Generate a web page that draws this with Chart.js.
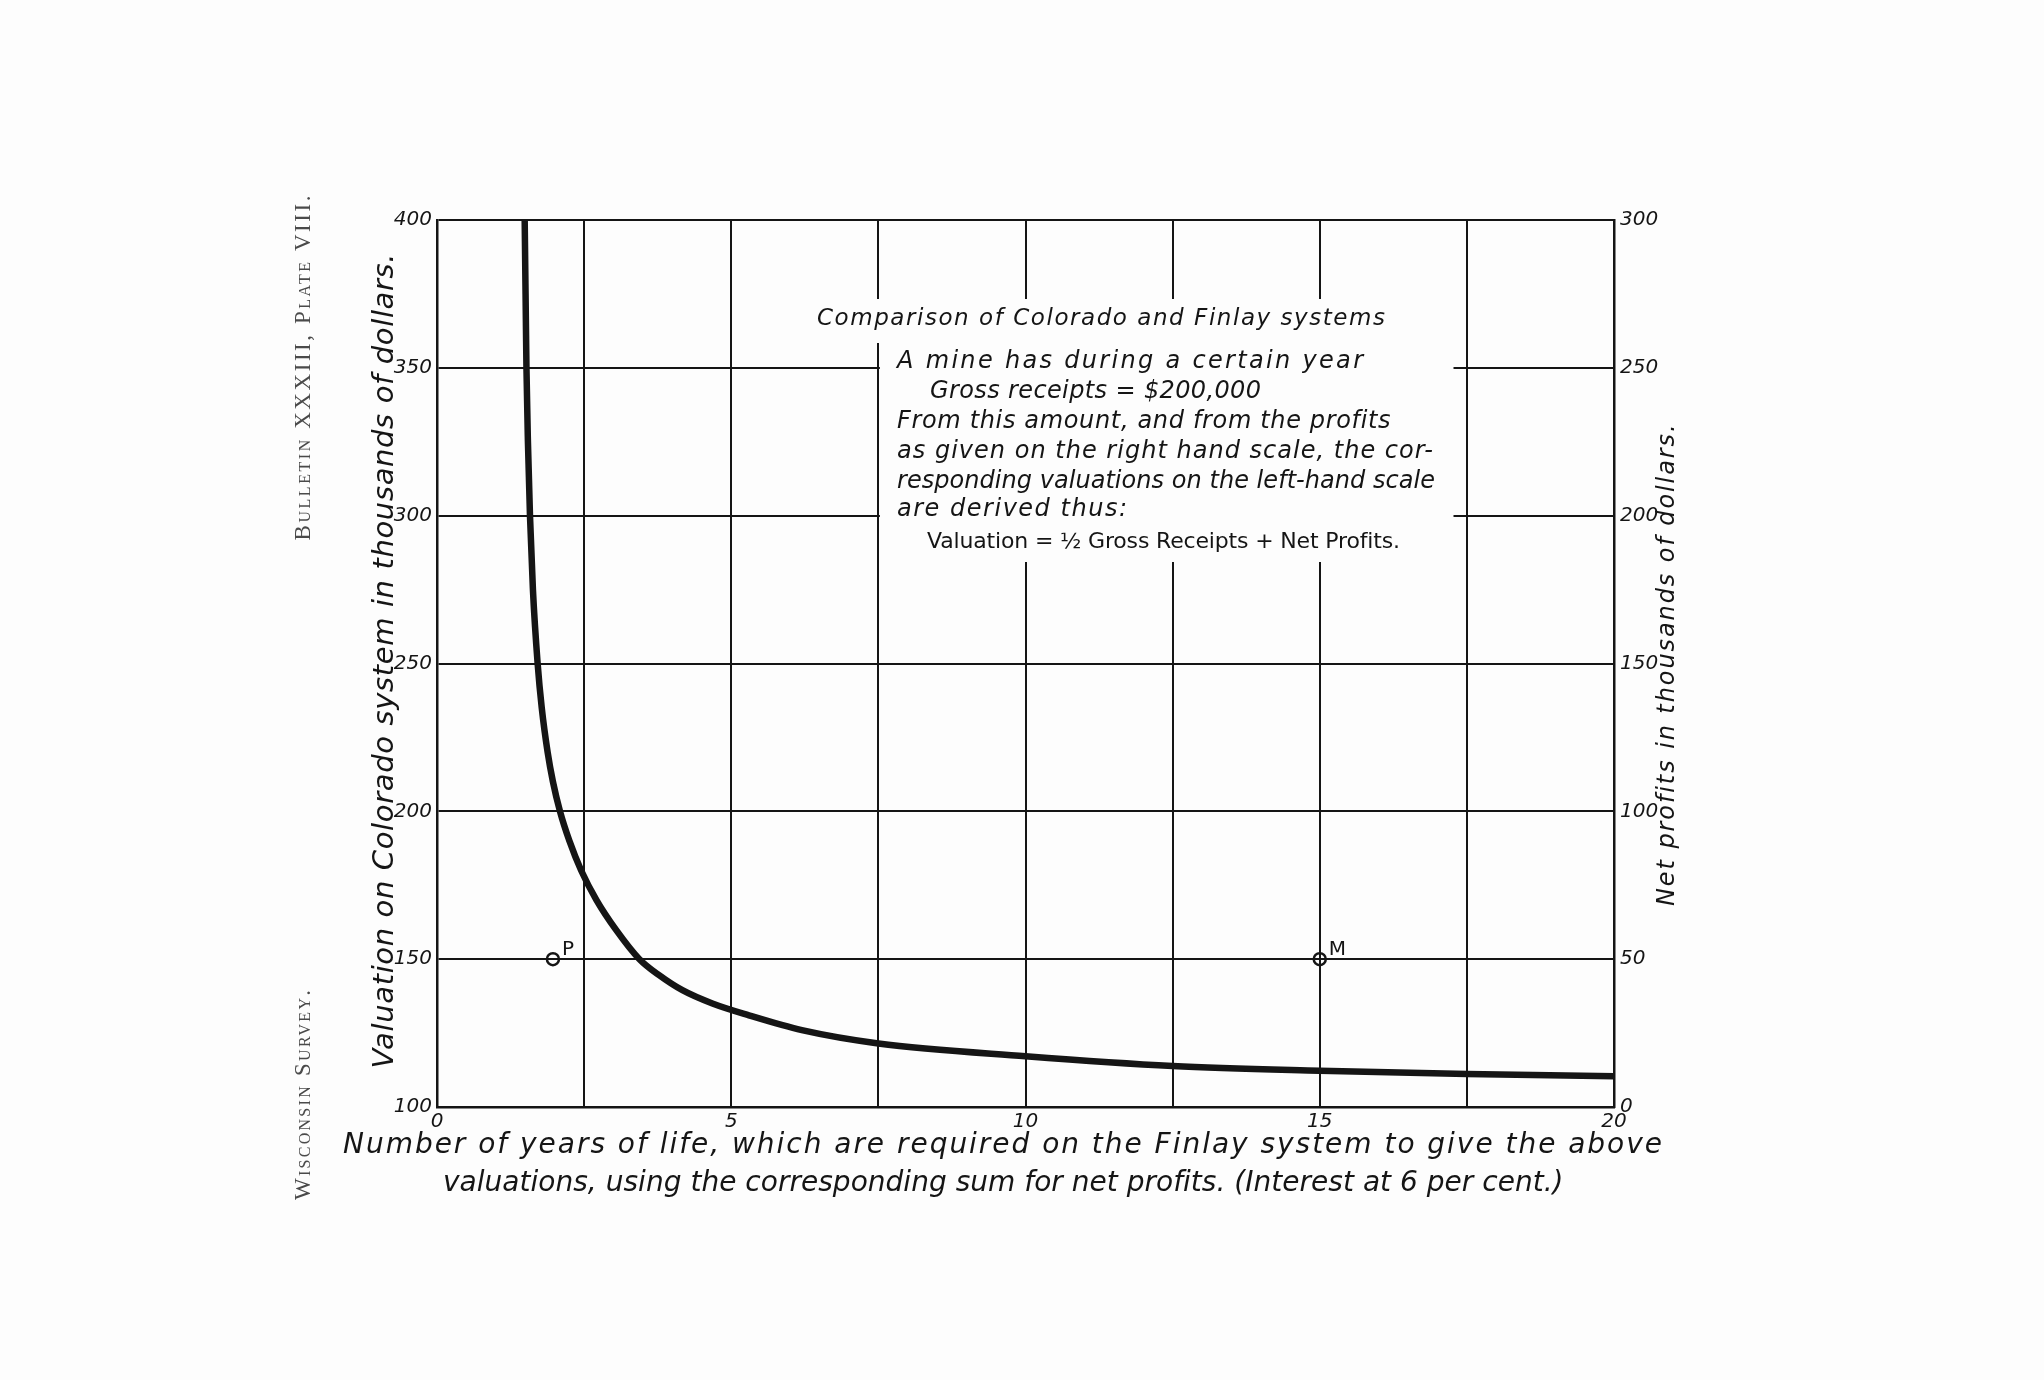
<!DOCTYPE html>
<html>
<head>
<meta charset="utf-8">
<title>Comparison of Colorado and Finlay systems</title>
<script src="https://cdn.jsdelivr.net/npm/chart.js@4.4.1/dist/chart.umd.min.js"></script>
<style>
body{margin:0;background:#fdfdfd;}
#wrap{width:2044px;height:1380px;}
</style>
</head>
<body>
<div id="wrap"><canvas id="plate" width="2044" height="1380"></canvas></div>
<script>
// curve: years of life on the Finlay system vs. Colorado valuation (thousands $)
var years = [1.49, 1.505, 1.52, 1.545, 1.58, 1.63, 1.71, 1.78, 1.88, 1.97, 2.09, 2.25, 2.45, 2.71, 3.04, 3.44, 3.78, 4.17, 4.68, 5.3, 6.2, 7.5, 10, 12.5, 15, 17.5, 20];
var valuation = [400, 375, 350, 325, 300, 275, 250, 235, 220, 210, 200, 190, 180, 170, 160, 150, 144.5, 139.5, 135, 131, 126, 121.5, 117.2, 113.9, 112.3, 111.2, 110.4];

// the two marked points
var pointNames = ["P", "M"];
var pointYears = [1.97, 15];
var pointValues = [150, 150];

// axes
var xLabelled = [0, 5, 10, 15, 20];
var leftMin = 100, leftMax = 400;
var rightMin = 0, rightMax = 300;

var titleText = "Comparison of Colorado and Finlay systems";
var noteLines = [
  "A mine has during a certain year",
  "Gross receipts = $200,000",
  "From this amount, and from the profits",
  "as given on the right hand scale, the cor-",
  "responding valuations on the left-hand scale",
  "are derived thus:",
  "Valuation = \u00bd Gross Receipts + Net Profits."
];
var leftTitle = "Valuation on Colorado system in thousands of dollars.";
var rightTitle = "Net profits in thousands of dollars.";
var bottomTitle1 = "Number of years of life, which are required on the Finlay system to give the above";
var bottomTitle2 = "valuations, using the corresponding sum for net profits. (Interest at 6 per cent.)";
var headTop = "Bulletin XXXIII, Plate VIII.";
var headBottom = "Wisconsin Survey.";

var ink = "#151515";
var hand = '"DejaVu Sans"';

var curve = years.map(function(y, i){ return {x: y, y: valuation[i]}; });
var marks = pointYears.map(function(y, i){ return {x: y, y: pointValues[i]}; });

// draw a string stretched with letter spacing so that it covers width w, starting at left
function spread(ctx, str, left, y, w){
  ctx.letterSpacing = "0px";
  var m = ctx.measureText(str).width;
  var sp = (w - m) / Math.max(str.length - 1, 1);
  ctx.letterSpacing = sp + "px";
  ctx.textAlign = "left";
  ctx.fillText(str, left, y);
  ctx.letterSpacing = "0px";
}
function spreadUp(ctx, str, cx, cy, w){
  ctx.save();
  ctx.translate(cx, cy);
  ctx.rotate(-Math.PI / 2);
  spread(ctx, str, -w / 2, 0, w);
  ctx.restore();
}

var plateText = {
  id: "plateText",
  beforeDatasetsDraw: function(chart){
    var ctx = chart.ctx, x = chart.scales.x;
    ctx.save();
    ctx.fillStyle = "#fdfdfd";
    // the lettering block covers the ruling
    ctx.fillRect(806, 299, 592, 44);
    ctx.fillRect(x.getPixelForValue(7.5) + 1.5, 299, 1452 - x.getPixelForValue(7.5), 263);
    ctx.restore();
  },
  afterDatasetsDraw: function(chart){
    var ctx = chart.ctx;
    ctx.save();
    ctx.fillStyle = ink;
    ctx.textBaseline = "middle";

    ctx.font = "italic 23px " + hand;
    spread(ctx, titleText, 817, 319, 568);

    var lefts = [897, 930, 897, 897, 897, 897, 927];
    var widths = [466, 331, 494, 536, 538, 230, 473];
    var ys = [362, 392, 422, 452, 482, 510, 542];
    noteLines.forEach(function(line, i){
      ctx.font = (i === 6 ? "normal 22px " : "italic 24px ") + hand;
      spread(ctx, line, lefts[i], ys[i], widths[i]);
    });

    // point letters
    ctx.font = "normal 20px " + hand;
    var meta = chart.getDatasetMeta(1);
    meta.data.forEach(function(p, i){
      spread(ctx, pointNames[i], p.x + 9, p.y - 9, 12);
    });

    // axis titles
    ctx.font = "italic 29px " + hand;
    spreadUp(ctx, leftTitle, 385, 661, 815);
    ctx.font = "italic 24px " + hand;
    spreadUp(ctx, rightTitle, 1668, 665, 482);
    ctx.font = "italic 28px " + hand;
    spread(ctx, bottomTitle1, 343, 1146, 1319);
    spread(ctx, bottomTitle2, 443, 1184, 1121);

    // plate headings
    ctx.fillStyle = "#4a4a4a";
    ctx.font = 'small-caps 23px "Liberation Serif"';
    spreadUp(ctx, headTop, 304, 368, 345);
    spreadUp(ctx, headBottom, 304, 1095, 210);
    ctx.restore();
  }
};

var tickFont = {family: "DejaVu Sans", size: 20, style: "italic"};

new Chart("plate", {
  type: "line",
  data: {
    datasets: [{
      data: curve,
      borderColor: ink,
      borderWidth: 6.5,
      pointRadius: 0,
      cubicInterpolationMode: "monotone",
      fill: false
    }, {
      type: "scatter",
      data: marks,
      pointRadius: 6,
      pointBorderWidth: 2.5,
      pointBorderColor: ink,
      pointBackgroundColor: "rgba(0,0,0,0)",
      showLine: false
    }]
  },
  options: {
    responsive: false,
    animation: false,
    layout: {padding: {top: 220, left: 0, right: 0, bottom: 0}},
    plugins: {legend: {display: false}, tooltip: {enabled: false}},
    scales: {
      x: {
        type: "linear",
        min: 0, max: 20,
        afterFit: function(s){ s.height = 273; },
        grid: {color: ink, lineWidth: 2, drawTicks: false},
        border: {color: ink, width: 2.5},
        ticks: {
          stepSize: 2.5, padding: 3, color: ink, font: tickFont, maxRotation: 0, autoSkip: false,
          callback: function(v){ return xLabelled.indexOf(v) >= 0 ? String(v) : ""; }
        }
      },
      y: {
        type: "linear", position: "left",
        min: leftMin, max: leftMax,
        afterFit: function(s){ s.width = 437; },
        grid: {color: ink, lineWidth: 2, drawTicks: false},
        border: {color: ink, width: 2.5},
        ticks: {stepSize: 50, padding: 5, color: ink, font: tickFont}
      },
      y2: {
        type: "linear", position: "right",
        min: rightMin, max: rightMax,
        afterFit: function(s){ s.width = 430; },
        grid: {drawOnChartArea: false, drawTicks: false},
        border: {color: ink, width: 2.5},
        ticks: {stepSize: 50, padding: 6, color: ink, font: tickFont}
      }
    }
  },
  plugins: [plateText]
});
</script>
</body>
</html>
